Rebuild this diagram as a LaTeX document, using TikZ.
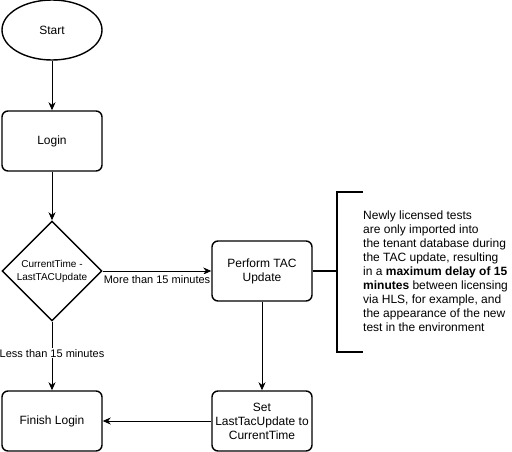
\documentclass[tikz,border=0pt]{standalone}
\usepackage{fontspec}
\setmainfont{Liberation Sans}
\usetikzlibrary{shapes.geometric,%
                arrows.meta}

\begin{document}
\begin{tikzpicture}[x=1pt,y=-1pt,
		flowbox/.style={draw=black,line width=1.4pt,rounded corners=6pt,minimum width=100pt,minimum height=60pt,inner sep=0pt,align=center,font=\fontsize{12}{14}\selectfont},
		flowarrow/.style={-{Stealth[length=8pt,width=7pt,inset=2.5pt]},line width=0.9pt},
		edgelabel/.style={fill=white,inner sep=1pt,font=\fontsize{11}{13}\selectfont}]
		\useasboundingbox (0,0) rectangle (512,452);
		{
			\tikzset{flowbox/.append style={shape=ellipse,rounded corners=0pt}}
			\node[flowbox] (start) at (52,30) {Start};
		}
		\node[flowbox] (login) at (52,141) {Login};
		{
			\tikzset{flowbox/.append style={shape=diamond,rounded corners=0pt,minimum height=100pt,aspect=1,font=\fontsize{10}{13}\selectfont}}
			\node[flowbox] (check) at (52,271) {CurrentTime -\\LastTACUpdate};
		}
		\node[flowbox] (tac) at (262,271) {Perform TAC\\Update};
		\node[flowbox] (setlast) at (262,421) {Set\\LastTacUpdate to\\CurrentTime};
		\node[flowbox] (finish) at (52,421) {Finish Login};
		\draw[flowarrow] (start) -- (login);
		\draw[flowarrow] (login) -- (check);
		\draw[flowarrow] (check) -- node[edgelabel,below=3pt] {More than 15 minutes} (tac);
		\draw[flowarrow] (check) -- node[edgelabel,pos=0.46] {Less than 15 minutes} (finish);
		\draw[flowarrow] (tac) -- (setlast);
		\draw[flowarrow] (setlast) -- (finish);
		% note bracket
		\coordinate (notetop) at (363,192);
		\coordinate (notebot) at (363,352);
		\coordinate (notemid) at (337,271);
		\draw[line width=1.4pt] (tac) -- (notemid);
		\draw[line width=1.4pt] (notetop) -- (337,192) -- (337,352) -- (notebot);
		\node[anchor=west,align=left,inner sep=0pt,font=\fontsize{12}{14}\selectfont] (note) at (363,271)
			{Newly licensed tests\\are only imported into\\the tenant database during\\the TAC update, resulting\\in a \textbf{maximum delay of 15}\\\textbf{minutes} between licensing\\via HLS, for example, and\\the appearance of the new\\test in the environment};
	\end{tikzpicture}
\end{document}
